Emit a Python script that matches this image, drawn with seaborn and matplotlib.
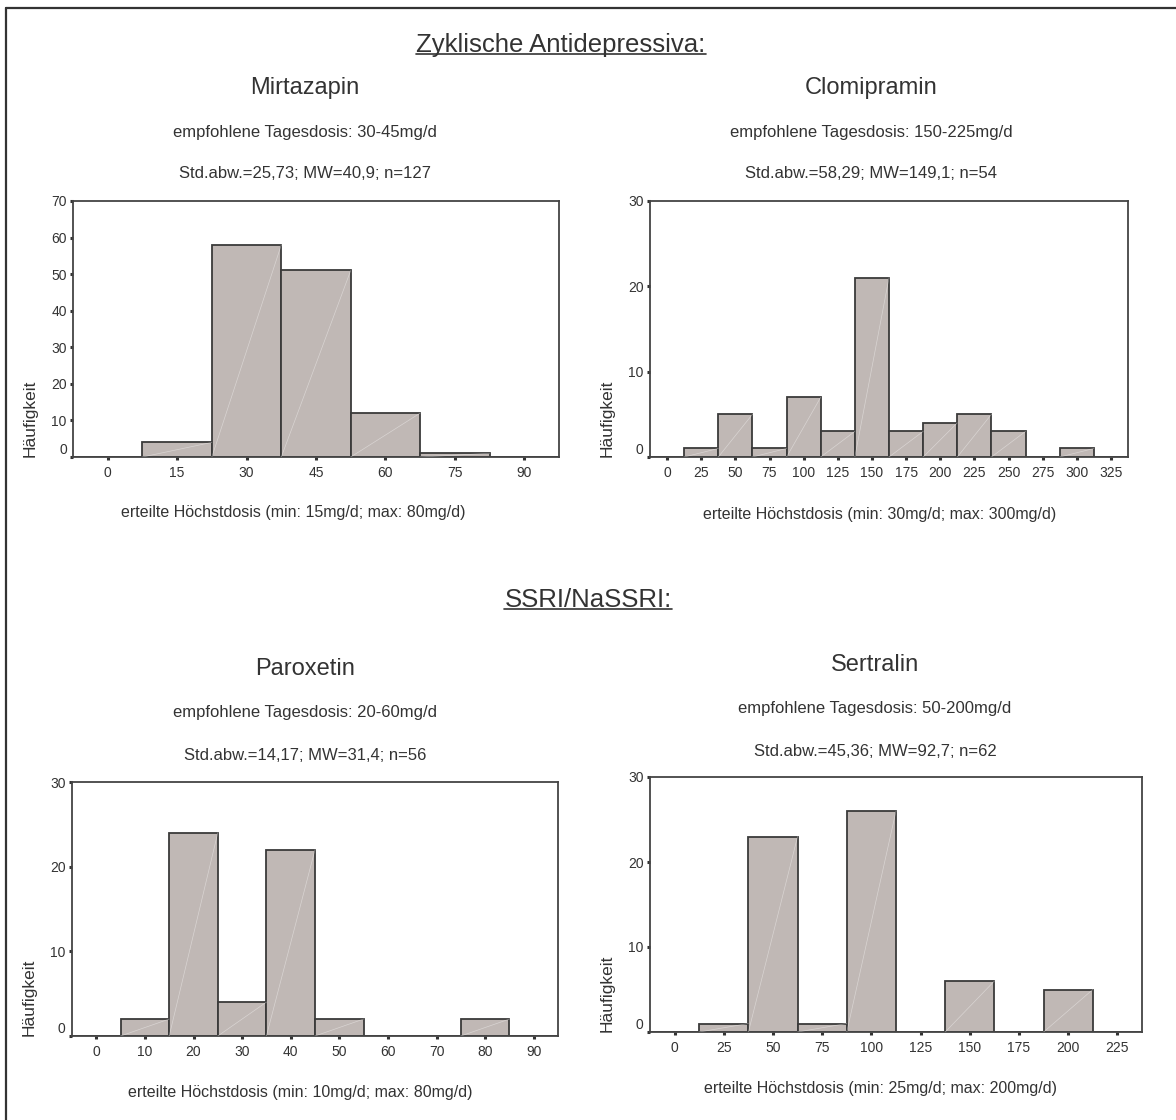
import matplotlib
matplotlib.use("Agg")
import matplotlib.pyplot as plt
from matplotlib.lines import Line2D
import seaborn as sns

# Histogram data (bin centres as categories, counts)
mirt_bins = ["0", "15", "30", "45", "60", "75", "90"]
mirt_counts = [0, 4, 58, 51, 12, 1, 0]

clomi_bins = ["0", "25", "50", "75", "100", "125", "150", "175", "200",
              "225", "250", "275", "300", "325"]
clomi_counts = [0, 1, 5, 1, 7, 3, 21, 3, 4, 5, 3, 0, 1, 0]

parox_bins = ["0", "10", "20", "30", "40", "50", "60", "70", "80", "90"]
parox_counts = [0, 2, 24, 4, 22, 2, 0, 0, 2, 0]

sert_bins = ["0", "25", "50", "75", "100", "125", "150", "175", "200", "225"]
sert_counts = [0, 1, 23, 1, 26, 0, 6, 0, 5, 0]

names = ["Mirtazapin", "Clomipramin", "Paroxetin", "Sertralin"]
doses = ["empfohlene Tagesdosis: 30-45mg/d", "empfohlene Tagesdosis: 150-225mg/d",
         "empfohlene Tagesdosis: 20-60mg/d", "empfohlene Tagesdosis: 50-200mg/d"]
stats = ["Std.abw.=25,73; MW=40,9; n=127", "Std.abw.=58,29; MW=149,1; n=54",
         "Std.abw.=14,17; MW=31,4; n=56", "Std.abw.=45,36; MW=92,7; n=62"]
xlabels = ["erteilte Höchstdosis (min: 15mg/d; max: 80mg/d)",
           "erteilte Höchstdosis (min: 30mg/d; max: 300mg/d)",
           "erteilte Höchstdosis (min: 10mg/d; max: 80mg/d)",
           "erteilte Höchstdosis (min: 25mg/d; max: 200mg/d)"]
ymax = [70, 30, 30, 30]

sns.set_theme(style="white")
plt.rcParams["font.family"] = ["Liberation Sans", "DejaVu Sans"]

W, H = 1176, 1120
fig = plt.figure(figsize=(W / 100, H / 100), dpi=100)
TXT = "#333333"
BAR = "#c0b8b5"
EDGE = "#3a3a3a"


def fx(x):
    return x / W


def fy(y):
    return 1 - y / H


def rect(x0, y0, x1, y1):
    return [fx(x0), fy(y1), (x1 - x0) / W, (y1 - y0) / H]


# axes boxes in pixels (left, top, right, bottom)
boxes = [(73, 201, 559, 457), (650, 201, 1128, 457),
         (72, 782, 558, 1036), (650, 777, 1142, 1032)]
# text positions: (centre x, title y, dose y, stats y, xlabel x, xlabel y)
tpos = [(305, 88, 133, 173, 293, 513), (871, 88, 133, 173, 880, 515),
        (305, 669, 713, 755, 300, 1093), (875, 665, 708, 751, 880, 1088)]

data = [(mirt_bins, mirt_counts), (clomi_bins, clomi_counts),
        (parox_bins, parox_counts), (sert_bins, sert_counts)]

for i, (bins, counts) in enumerate(data):
    ax = fig.add_axes(rect(*boxes[i]))
    sns.barplot(x=bins, y=counts, ax=ax, color=BAR, saturation=1, width=1,
                edgecolor=EDGE, linewidth=1.3)
    # faint diagonal streak inside each bar (SPSS look)
    for p in ax.patches:
        if p.get_height() > 0:
            x0, y0 = p.get_x(), p.get_y()
            ax.plot([x0, x0 + p.get_width()], [y0, y0 + p.get_height()],
                    color="white", lw=0.5, alpha=0.4, zorder=3)
    ax.set_xlim(-0.5, len(bins) - 0.5)
    ax.set_ylim(0, ymax[i])
    ax.set_yticks(range(0, ymax[i] + 1, 10))
    ax.set_xlabel("")
    ax.set_ylabel("")
    for s in ax.spines.values():
        s.set_color("#444444")
        s.set_linewidth(1.3)
    ax.tick_params(axis="both", which="major", direction="out", length=2.5,
                   width=2.2, color=TXT, labelsize=10, labelcolor=TXT, pad=4,
                   bottom=True, left=True)
    ax.tick_params(axis="y", pad=2)
    ylabs = ax.get_yticklabels()
    ylabs[0].set_verticalalignment("bottom")

    cx, ty, dy, sy, lx, ly = tpos[i]
    fig.text(fx(cx), fy(ty), names[i], ha="center", va="center", fontsize=17, color=TXT)
    fig.text(fx(cx), fy(dy), doses[i], ha="center", va="center", fontsize=12, color=TXT)
    fig.text(fx(cx), fy(sy), stats[i], ha="center", va="center", fontsize=12, color=TXT)
    fig.text(fx(lx), fy(ly), xlabels[i], ha="center", va="center", fontsize=11.5, color=TXT)
    fig.text(fx(boxes[i][0] - 43), fy(boxes[i][3]), "Häufigkeit", rotation=90,
             ha="center", va="bottom", fontsize=12.5, color=TXT)

heads = [fig.text(fx(561), fy(45), "Zyklische Antidepressiva:", ha="center",
                  va="center", fontsize=18.5, color=TXT),
         fig.text(fx(588), fy(600), "SSRI/NaSSRI:", ha="center", va="center",
                  fontsize=18.5, color=TXT)]

# underline the section headings
fig.canvas.draw()
r = fig.canvas.get_renderer()
for t in heads:
    bb = t.get_window_extent(renderer=r)
    yl = (bb.y0 + 3) / H
    fig.add_artist(Line2D([bb.x0 / W, bb.x1 / W], [yl, yl], color=TXT, lw=1.2))

# frame around the figure (top and left edges)
fig.add_artist(Line2D([fx(6), 1], [fy(8), fy(8)], color="#333333", lw=1.6))
fig.add_artist(Line2D([fx(6), fx(6)], [fy(8), 0], color="#333333", lw=1.6))

fig.savefig("out.png", dpi=100)
